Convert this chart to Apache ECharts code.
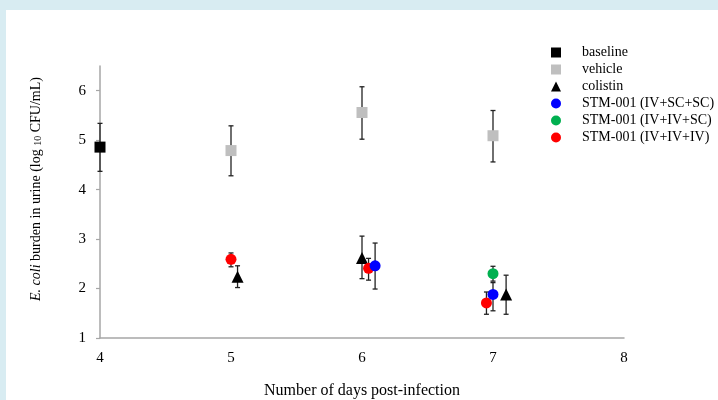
<!DOCTYPE html>
<html>
<head>
<meta charset="utf-8">
<script src="https://cdn.jsdelivr.net/npm/echarts@6/dist/echarts.min.js"></script>
<style>
html,body{margin:0;padding:0;background:#d8ecf2;width:718px;height:400px;overflow:hidden;}
#chart{position:absolute;left:6px;top:10px;width:712px;height:390px;background:#ffffff;}
</style>
</head>
<body>
<div id="chart"></div>
<script>
// ---- data ----
var legendNames = ['baseline', 'vehicle', 'colistin', 'STM-001 (IV+SC+SC)', 'STM-001 (IV+IV+SC)', 'STM-001 (IV+IV+IV)'];
var xTicks = [4, 5, 6, 7, 8];
var yTicks = [1, 2, 3, 4, 5, 6];

var baselineX = [4];
var baselineY = [4.86];
var baselineLo = [4.37];
var baselineHi = [5.34];

var vehicleX = [5, 6, 7];
var vehicleY = [4.79, 5.56, 5.09];
var vehicleLo = [4.28, 5.02, 4.56];
var vehicleHi = [5.29, 6.08, 5.60];

var colistinX = [5.05, 6.0, 7.1];
var colistinY = [2.24, 2.62, 1.88];
var colistinLo = [2.02, 2.20, 1.48];
var colistinHi = [2.46, 3.06, 2.27];

var ivscscX = [6.1, 7.0];
var ivscscY = [2.46, 1.88];
var ivscscLo = [1.99, 1.55];
var ivscscHi = [2.92, 2.12];

var ivivscX = [7.0];
var ivivscY = [2.30];
var ivivscLo = [2.15];
var ivivscHi = [2.45];

var ivivivX = [5.0, 6.05, 6.95];
var ivivivY = [2.59, 2.41, 1.71];
var ivivivLo = [2.44, 2.17, 1.48];
var ivivivHi = [2.72, 2.61, 1.93];

// ---- build chart ----
var serif = '"Liberation Serif", "Times New Roman", serif';
function pts(xs, ys) { return xs.map(function (x, i) { return [x, ys[i]]; }); }
function errs(xs, lo, hi) { return xs.map(function (x, i) { return [x, lo[i], hi[i]]; }); }

var groups = [
  { name: legendNames[0], x: baselineX, y: baselineY, lo: baselineLo, hi: baselineHi, symbol: 'rect', color: '#000000', size: 11, z: 3 },
  { name: legendNames[1], x: vehicleX, y: vehicleY, lo: vehicleLo, hi: vehicleHi, symbol: 'rect', color: '#bfbfbf', size: 11, z: 3 },
  { name: legendNames[2], x: colistinX, y: colistinY, lo: colistinLo, hi: colistinHi, symbol: 'triangle', color: '#000000', size: 12, z: 3 },
  { name: legendNames[3], x: ivscscX, y: ivscscY, lo: ivscscLo, hi: ivscscHi, symbol: 'circle', color: '#0000ff', size: 11, z: 5 },
  { name: legendNames[4], x: ivivscX, y: ivivscY, lo: ivivscLo, hi: ivivscHi, symbol: 'circle', color: '#00b050', size: 11, z: 5 },
  { name: legendNames[5], x: ivivivX, y: ivivivY, lo: ivivivLo, hi: ivivivHi, symbol: 'circle', color: '#ff0000', size: 11, z: 4 }
];

var series = [];
groups.forEach(function (g) {
  series.push({
    type: 'custom',
    name: g.name + ' err',
    z: 1,
    silent: true,
    data: errs(g.x, g.lo, g.hi),
    renderItem: function (params, api) {
      var x = api.value(0);
      var top = api.coord([x, api.value(2)]);
      var bot = api.coord([x, api.value(1)]);
      var cap = 2.5;
      var st = { stroke: '#222222', lineWidth: 1.3 };
      return {
        type: 'group',
        children: [
          { type: 'line', shape: { x1: top[0], y1: top[1], x2: bot[0], y2: bot[1] }, style: st },
          { type: 'line', shape: { x1: top[0] - cap, y1: top[1], x2: top[0] + cap, y2: top[1] }, style: st },
          { type: 'line', shape: { x1: bot[0] - cap, y1: bot[1], x2: bot[0] + cap, y2: bot[1] }, style: st }
        ]
      };
    }
  });
  series.push({
    type: 'scatter',
    name: g.name,
    z: g.z,
    symbol: g.symbol,
    symbolSize: g.size,
    itemStyle: { color: g.color, opacity: 1 },
    data: pts(g.x, g.y)
  });
});

var chart = echarts.init(document.getElementById('chart'), null, { renderer: 'canvas' });
chart.setOption({
  animation: false,
  backgroundColor: '#ffffff',
  grid: { left: 94, right: 94, top: 56, bottom: 62, outerBoundsMode: 'none', containLabel: false },
  legend: {
    data: groups.map(function (g) {
      return { name: g.name, icon: g.symbol, itemStyle: { color: g.color } };
    }),
    orient: 'vertical',
    left: 540,
    top: 30,
    itemWidth: 10,
    itemHeight: 10,
    itemGap: 2,
    textStyle: { fontFamily: serif, fontSize: 14, color: '#000000', padding: [0, 0, 0, 16], lineHeight: 15 }
  },
  xAxis: {
    type: 'value',
    min: 4,
    max: 8,
    interval: 1,
    name: 'Number of days post-infection',
    nameLocation: 'middle',
    nameGap: 45,
    nameTextStyle: { fontFamily: serif, fontSize: 16, color: '#000000' },
    axisLine: { show: true, lineStyle: { color: '#a6a6a6', width: 1.5 } },
    axisTick: { show: false },
    splitLine: { show: false },
    axisLabel: { fontFamily: serif, fontSize: 15, color: '#000000', margin: 13,
      customValues: xTicks }
  },
  yAxis: {
    type: 'value',
    min: 1,
    max: 6.5,
    interval: 1,
    axisLine: { show: true, lineStyle: { color: '#a6a6a6', width: 1.5 } },
    axisTick: { show: true, length: 4, lineStyle: { color: '#a6a6a6', width: 1.2 }, customValues: yTicks },
    splitLine: { show: false },
    axisLabel: { fontFamily: serif, fontSize: 15, color: '#000000', margin: 14, customValues: yTicks }
  },
  graphic: [{
    type: 'text',
    x: 30,
    y: 179,
    rotation: Math.PI / 2,
    style: {
      text: '{i|E. coli} burden in urine (log {s|10} CFU/mL)',
      fontFamily: serif,
      fontSize: 14,
      fill: '#000000',
      align: 'center',
      verticalAlign: 'middle',
      rich: {
        i: { fontFamily: serif, fontSize: 14, fontStyle: 'italic', fill: '#000000' },
        s: { fontFamily: serif, fontSize: 10, fill: '#000000', padding: [5, 0, 0, 0] }
      }
    }
  }],
  series: series
});
</script>
</body>
</html>
